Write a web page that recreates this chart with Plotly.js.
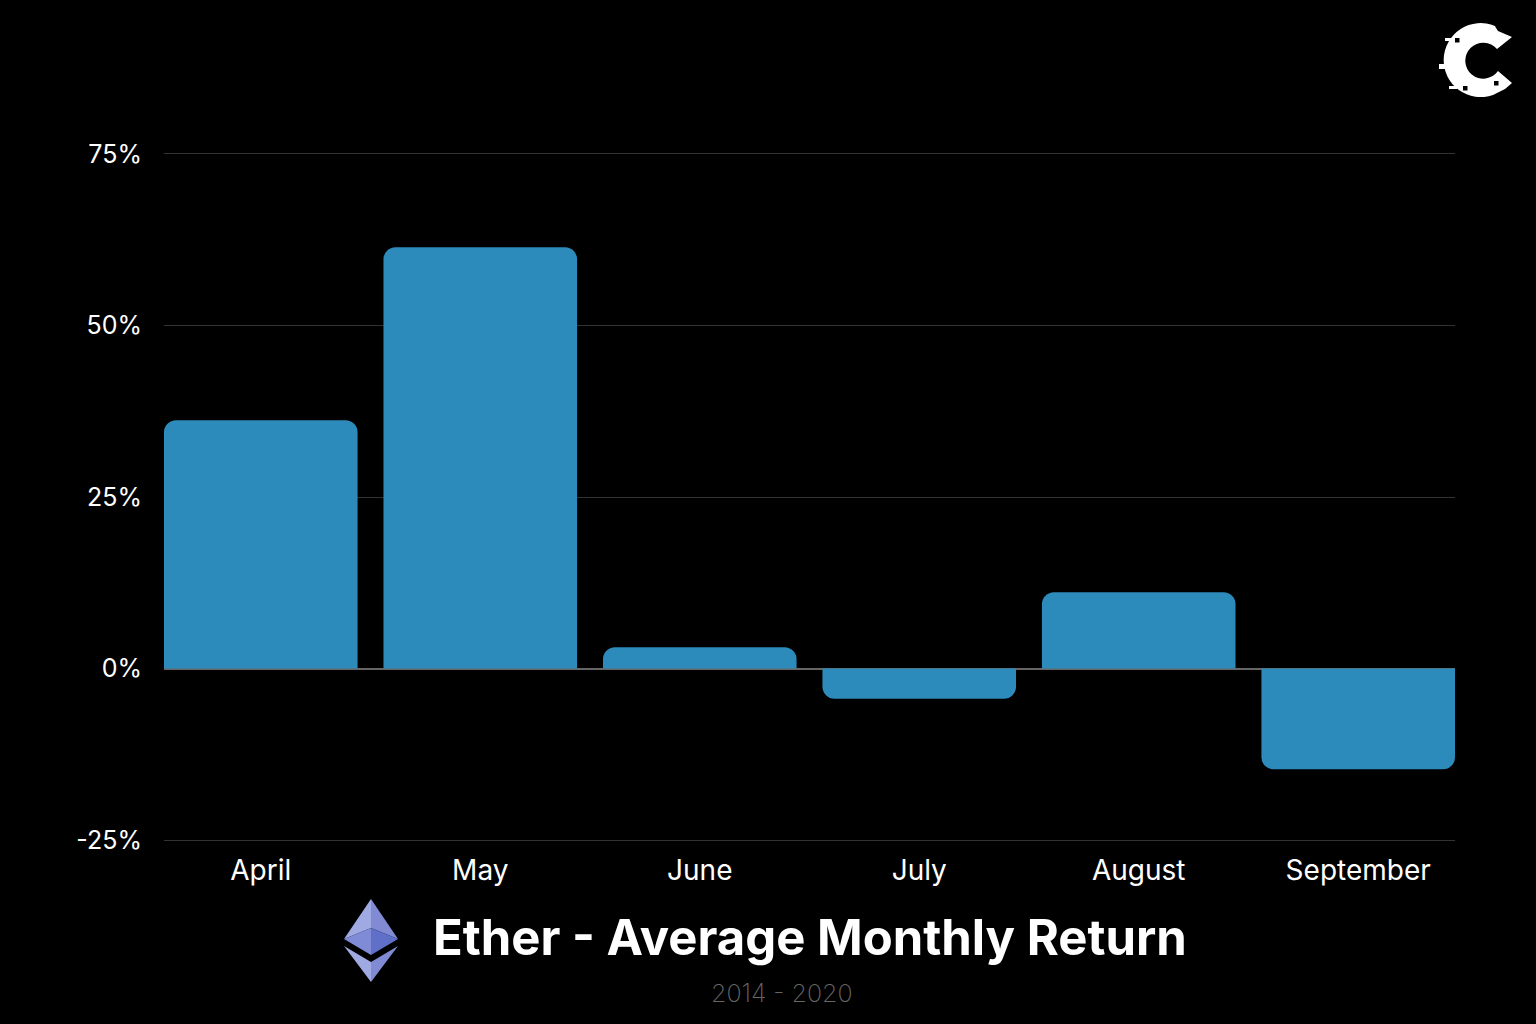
<!DOCTYPE html>
<html><head><meta charset="utf-8">
<script src="https://cdn.plot.ly/plotly-3.0.1.min.js"></script>
<style>html,body{margin:0;padding:0;background:#000}</style></head>
<body><div id="chart" style="width:1536px;height:1024px"></div>
<script>
const months = ["April","May","June","July","August","September"];
const returns = [36.2,61.4,3.1,-4.4,11.1,-14.7];
const tickValues = [-25,0,25,50,75];
const tickLabels = ["-25%","0%","25%","50%","75%"];
const titleText = "Ether - Average Monthly Return";
const subtitleText = "2014 - 2020";
const barColor = "#2c8bba";
const F = "Inter, sans-serif";

const L=164,R=1455,T=152,B=842;
const px=x=>(x-L)/(R-L), py=y=>(B-y)/(B-T);

const ethSvg = `<svg xmlns="http://www.w3.org/2000/svg" viewBox="0 0 54 83" width="216" height="332">
<polygon points="27,0 27,29 0,40" fill="#a0aae2"/><polygon points="27,0 54,40 27,29" fill="#808bd3"/>
<polygon points="0,40 27,29 27,56" fill="#7f8bd6"/><polygon points="27,29 54,40 27,56" fill="#6070c8"/>
<polygon points="0,47 27,63 27,83" fill="#a0aae2"/><polygon points="27,63 54,47 27,83" fill="#808bd3"/></svg>`;
const cSvg = `<svg xmlns="http://www.w3.org/2000/svg" viewBox="0 0 100 100" width="400" height="400">
<path fill="#fff" d="M82,27 L67,39 A18,18 0 1 0 68,61 L82,73 L75,79 L63,85 A37,37 0 1 1 65,16 L66,18 L68,21 Z"/>
<rect x="9" y="54" width="10" height="5" fill="#fff"/><rect x="15" y="28" width="10" height="3" fill="#fff"/><rect x="19" y="76" width="8" height="3" fill="#fff"/>
<rect x="25" y="28" width="4.5" height="4.5" fill="#000"/><rect x="33" y="76" width="4.5" height="4.5" fill="#000"/><rect x="64" y="71" width="4.5" height="4.5" fill="#000"/></svg>`;
const uri=s=>"data:image/svg+xml;charset=utf-8,"+encodeURIComponent(s);

Plotly.newPlot("chart",[{
  type:"bar",x:[0,1,2,3,4,5],y:returns,marker:{color:barColor,line:{width:0}},width:0.882,hoverinfo:"x+y"
}],{
  width:1536,height:1024,autosize:false,showlegend:false,
  paper_bgcolor:"#000",plot_bgcolor:"#000",
  margin:{l:L,r:1536-R,t:T,b:1024-B,pad:0},
  barcornerradius:12,
  font:{family:F,color:"#fff"},
  xaxis:{range:[-0.441,5.441],tickmode:"array",tickvals:[0,1,2,3,4,5],ticktext:months,showgrid:false,zeroline:false,
    ticks:"",ticklabelstandoff:9,tickfont:{family:F,size:28,color:"#fff"},showline:false},
  yaxis:{range:[-25.29,75.29],tickmode:"array",tickvals:tickValues,ticktext:tickLabels,gridcolor:"#333",gridwidth:1,
    zeroline:true,zerolinecolor:"#666",zerolinewidth:1.5,ticks:"",ticklabelstandoff:21,
    tickfont:{family:F,size:25,color:"#fff"},showline:false},
  annotations:[
    {xref:"paper",yref:"paper",x:px(810),y:py(937),text:"<b>"+titleText+"</b>",showarrow:false,xanchor:"center",yanchor:"middle",
     font:{family:F,size:49,weight:800,color:"#fff"}},
    {xref:"paper",yref:"paper",x:px(782),y:py(993),text:subtitleText,showarrow:false,xanchor:"center",yanchor:"middle",
     font:{family:F,size:25,weight:200,color:"#666"}}
  ],
  images:[
    {source:uri(ethSvg),xref:"paper",yref:"paper",x:px(344),y:py(899),sizex:54/(R-L),sizey:83/(B-T),xanchor:"left",yanchor:"top",sizing:"stretch",layer:"above"},
    {source:uri(cSvg),xref:"paper",yref:"paper",x:px(1430),y:py(10),sizex:100/(R-L),sizey:100/(B-T),xanchor:"left",yanchor:"top",sizing:"stretch",layer:"above"}
  ]
},{displayModeBar:false});
</script></body></html>
